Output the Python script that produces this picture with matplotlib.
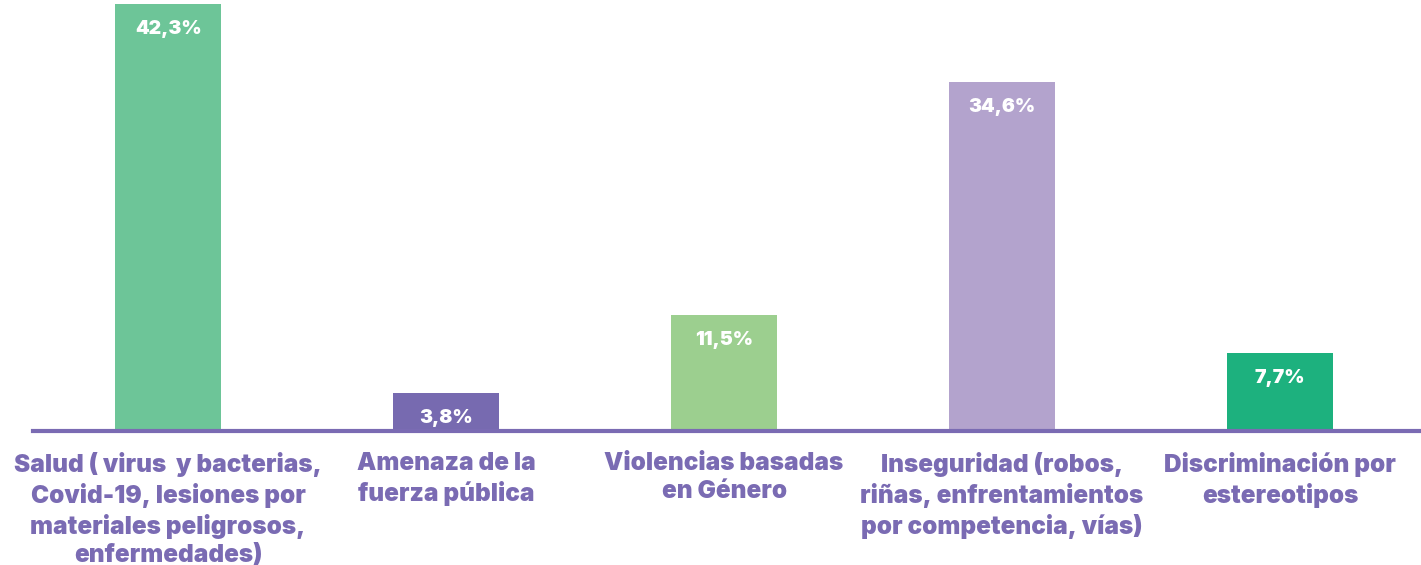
import numpy as np
import matplotlib.pyplot as plt

# Categorías y porcentajes
categorias = [
    "Salud ( virus  y bacterias,\nCovid-19, lesiones por\nmateriales peligrosos,\nenfermedades)",
    "Amenaza de la\nfuerza pública",
    "Violencias basadas\nen Género",
    "Inseguridad (robos,\nriñas, enfrentamientos\npor competencia, vías)",
    "Discriminación por\nestereotipos",
]
valores = [42.3, 3.8, 11.5, 34.6, 7.7]
etiquetas = ["42,3%", "3,8%", "11,5%", "34,6%", "7,7%"]
colores = ["#6DC598", "#776AB0", "#9CCF8F", "#B3A3CD", "#1DB17E"]

morado = "#7A6BB3"
fuente = ["Inter", "DejaVu Sans"]

fig = plt.figure(figsize=(14.21, 5.65), dpi=100)
ax = fig.add_axes([33 / 1421, 134 / 565, 1388 / 1421, 431 / 565])

x = np.arange(len(valores))
barras = ax.bar(x, valores, width=0.38, color=colores, zorder=2)

ax.set_xlim(-0.486, 4.507)
ax.set_ylim(0, 431 / 10.1)

# línea base
ax.axhline(0, color=morado, linewidth=3, zorder=3, clip_on=False)

for b, txt in zip(barras, etiquetas):
    ax.annotate(txt, (b.get_x() + b.get_width() / 2, b.get_height()),
                xytext=(0, -18), textcoords="offset points",
                ha="center", va="center", color="white",
                fontsize=14, fontweight="black", family=fuente)

for xi, cat in zip(x, categorias):
    ax.annotate(cat, (xi, 0), xytext=(0, -15), textcoords="offset points",
                ha="center", va="top", color=morado, fontsize=17.5,
                fontweight="black", family=fuente, linespacing=1.3)

ax.axis("off")
fig.savefig("out.png", dpi=100)
